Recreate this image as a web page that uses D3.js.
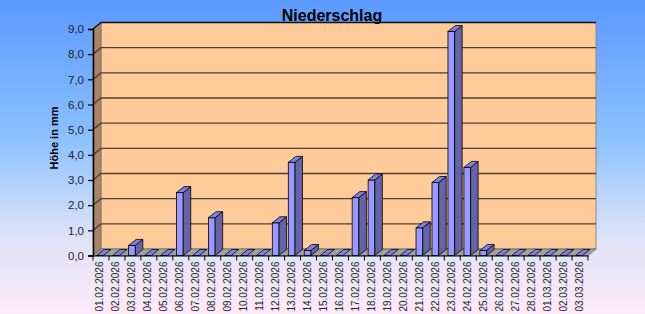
<!DOCTYPE html>
<html>
<head>
<meta charset="utf-8">
<script src="https://cdn.jsdelivr.net/npm/d3@7"></script>
<style>
  html, body { margin: 0; padding: 0; }
  svg { display: block; font-family: Arial, "Liberation Sans", sans-serif; }
</style>
</head>
<body>
<div id="chart"></div>
<script>
// data
const dates = ["01.02.2026","02.02.2026","03.02.2026","04.02.2026","05.02.2026","06.02.2026","07.02.2026","08.02.2026",
  "09.02.2026","10.02.2026","11.02.2026","12.02.2026","13.02.2026","14.02.2026","15.02.2026","16.02.2026",
  "17.02.2026","18.02.2026","19.02.2026","20.02.2026","21.02.2026","22.02.2026","23.02.2026","24.02.2026",
  "25.02.2026","26.02.2026","27.02.2026","28.02.2026","01.03.2026","02.03.2026","03.03.2026"];
const rain = [0, 0, 0.4, 0, 0, 2.5, 0, 1.5, 0, 0, 0, 1.3, 3.7, 0.2, 0, 0,
  2.3, 3.0, 0, 0, 1.1, 2.9, 8.9, 3.5, 0.2, 0, 0, 0, 0, 0, 0];
const yTicks = [0, 1, 2, 3, 4, 5, 6, 7, 8, 9];

window.onload = () => {
  const width = 645, height = 314;
  const depth = { dx: 8, dy: -6.5 };

  const svg = d3.select('#chart')
    .append('svg')
    .attr('width', width)
    .attr('height', height);

  const defs = svg.append('defs');
  const grad = defs.append('linearGradient')
    .attr('id', 'bg').attr('x1', 0).attr('y1', 0).attr('x2', 0).attr('y2', 1);
  [['0%', '#5a99ff'], ['45%', '#8dc2ff'], ['75%', '#dde2f6'], ['100%', '#fdebfa']]
    .forEach(s => grad.append('stop').attr('offset', s[0]).attr('stop-color', s[1]));

  svg.append('rect').attr('width', width).attr('height', height).attr('fill', 'url(#bg)');

  const xScale = d3.scaleBand()
    .domain(dates)
    .range([93, 588])
    .padding(0);
  const yScale = d3.scaleLinear()
    .domain([0, 9])
    .range([255.5, 29]);

  const x0 = xScale.range()[0], x1 = xScale.range()[1];
  const yb = yScale(0), yt = yScale(9);
  const pts = a => a.map(p => p.join(',')).join(' ');

  // back wall
  svg.append('rect')
    .attr('x', x0 + depth.dx).attr('y', yt + depth.dy)
    .attr('width', x1 - x0).attr('height', yb - yt)
    .attr('fill', '#ffcc99')
    .attr('stroke', '#888').attr('stroke-width', 1);
  // side wall
  svg.append('polygon')
    .attr('points', pts([[x0, yt], [x0 + depth.dx, yt + depth.dy], [x0 + depth.dx, yb + depth.dy], [x0, yb]]))
    .attr('fill', '#aa8565').attr('stroke', '#777').attr('stroke-width', 0.8);
  // floor
  svg.append('polygon')
    .attr('points', pts([[x0, yb], [x0 + depth.dx, yb + depth.dy], [x1 + depth.dx, yb + depth.dy], [x1, yb]]))
    .attr('fill', '#a0a0a0').attr('stroke', '#666').attr('stroke-width', 0.8);

  // gridlines
  const grid = svg.append('g');
  grid.selectAll('polyline')
    .data(yTicks.filter(d => d > 0))
    .join('polyline')
    .attr('points', d => pts([[x0, yScale(d)], [x0 + depth.dx, yScale(d) + depth.dy], [x1 + depth.dx, yScale(d) + depth.dy]]))
    .attr('fill', 'none')
    .attr('stroke', d => d === 9 ? '#111' : '#4a4038')
    .attr('stroke-width', 1.4);

  // bars
  const bw = xScale.bandwidth();
  const fw = bw * 0.42, bdx = 7.5, bdy = -6;
  const bars = svg.append('g')
    .selectAll('g')
    .data(dates.map((d, i) => ({ date: d, v: rain[i] })))
    .join('g');
  bars.each(function (d) {
    const g = d3.select(this);
    const l = xScale(d.date) + bw * 0.23, r = l + fw;
    const top = yScale(d.v), bot = yScale(0);
    if (d.v > 0) {
      g.append('rect')
        .attr('x', l).attr('y', top).attr('width', fw).attr('height', bot - top)
        .attr('fill', '#9999ff').attr('stroke', '#000').attr('stroke-width', 0.8);
      g.append('polygon')
        .attr('points', pts([[r, top], [r + bdx, top + bdy], [r + bdx, bot + bdy], [r, bot]]))
        .attr('fill', '#6464a6').attr('stroke', '#000').attr('stroke-width', 0.8);
    }
    g.append('polygon')
      .attr('points', pts([[l, top], [l + bdx, top + bdy], [r + bdx, top + bdy], [r, top]]))
      .attr('fill', '#7f7fe6').attr('stroke', '#000').attr('stroke-width', 0.8);
  });

  // axes
  const yAxis = d3.axisLeft(yScale)
    .tickValues(yTicks)
    .tickSize(5)
    .tickFormat(d => d3.format('.1f')(d).replace('.', ','));
  const yg = svg.append('g')
    .attr('transform', `translate(${x0},0)`)
    .call(yAxis);
  yg.select('.domain').attr('stroke', '#000').attr('stroke-width', 1.5);
  yg.selectAll('.tick line').attr('stroke', '#000').attr('stroke-width', 1.2);
  yg.selectAll('.tick text')
    .attr('x', -9)
    .attr('fill', '#222')
    .style('font-size', '11.5px')
    .style('font-family', 'Arial, "Liberation Sans", sans-serif');

  const xAxis = d3.axisBottom(xScale).tickSize(0).tickSizeOuter(0);
  const xg = svg.append('g')
    .attr('transform', `translate(0,${yb})`)
    .call(xAxis);
  xg.select('.domain').attr('stroke', '#000').attr('stroke-width', 1.2);
  xg.selectAll('.tick text')
    .attr('transform', 'rotate(-90)')
    .attr('x', -6).attr('y', -1)
    .attr('dy', '0.35em')
    .attr('text-anchor', 'end')
    .attr('fill', '#222')
    .style('font-size', '10px')
    .style('font-family', 'Arial, "Liberation Sans", sans-serif');
  // separator ticks between categories
  xg.selectAll('line.sep')
    .data(dates.concat(['end']))
    .join('line')
    .attr('class', 'sep')
    .attr('x1', (d, i) => x0 + i * bw).attr('x2', (d, i) => x0 + i * bw)
    .attr('y1', 0).attr('y2', 5)
    .attr('stroke', '#000').attr('stroke-width', 1);

  // titles
  svg.append('text')
    .attr('x', 332).attr('y', 21)
    .attr('text-anchor', 'middle')
    .style('font-size', '16px').style('font-weight', 'bold')
    .attr('fill', '#000')
    .text('Niederschlag');

  svg.append('text')
    .attr('transform', 'translate(58,138) rotate(-90)')
    .attr('text-anchor', 'middle')
    .style('font-size', '11px').style('font-weight', 'bold')
    .attr('fill', '#000')
    .text('Höhe in mm');
};
</script>
</body>
</html>
